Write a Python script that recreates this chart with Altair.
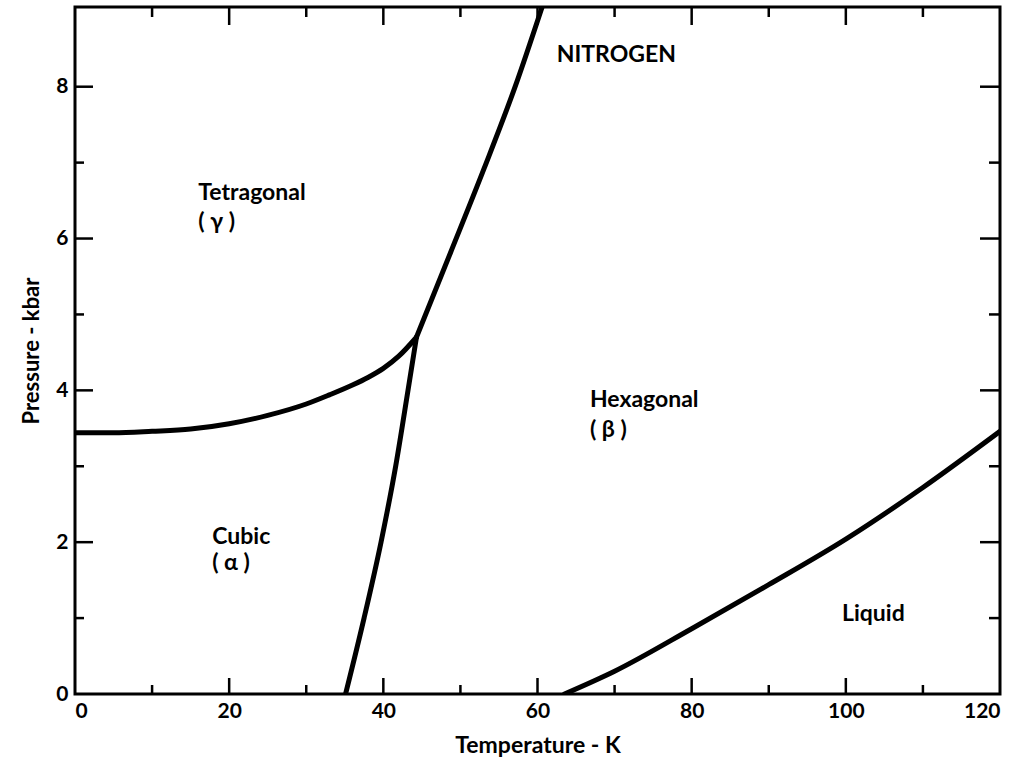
import altair as alt
import pandas as pd

# Phase boundary curves (Temperature K, Pressure kbar)
cubic_tetra_T = [0, 5, 10, 15, 20, 25, 30, 33, 36, 38, 40, 42, 44.3]
cubic_tetra_P = [3.44, 3.44, 3.46, 3.49, 3.56, 3.67, 3.82, 3.94, 4.07, 4.17, 4.29, 4.45, 4.70]

cubic_hex_T = [35.1, 37.5, 39.7, 41.6, 43.2, 44.3]
cubic_hex_P = [0.0, 1.0, 2.0, 3.0, 4.0, 4.70]

tetra_hex_T = [44.3, 48.7, 53.1, 57.1, 60.6]
tetra_hex_P = [4.70, 5.81, 6.93, 8.0, 9.05]

melt_T = [63.5, 70, 80, 90, 100, 110, 120]
melt_P = [0.0, 0.30, 0.86, 1.44, 2.04, 2.72, 3.46]

# Region labels
label_text = ["NITROGEN", "Tetragonal", "( γ )", "Hexagonal", "( β )", "Cubic", "( α )", "Liquid"]
label_T = [62.5, 16.0, 16.0, 66.8, 66.8, 17.8, 17.8, 99.5]
label_P = [8.42, 6.6, 6.22, 3.87, 3.48, 2.07, 1.73, 1.05]

x_major = [0, 20, 40, 60, 80, 100, 120]
x_minor = [10, 30, 50, 70, 90, 110]
y_major = [2, 4, 6, 8]
y_minor = [1, 3, 5, 7]

W, H = 925, 687
FONT = "Lato"

rows = []
for name, ts, ps in [("ct", cubic_tetra_T, cubic_tetra_P), ("ch", cubic_hex_T, cubic_hex_P),
                     ("th", tetra_hex_T, tetra_hex_P), ("m", melt_T, melt_P)]:
    for i, (t, p) in enumerate(zip(ts, ps)):
        rows.append({"curve": name, "T": t, "P": p, "i": i})
curves = pd.DataFrame(rows)

xscale = alt.Scale(domain=[0, 120], nice=False, zero=False)
yscale = alt.Scale(domain=[0, 9.05], nice=False, zero=False)

xaxis = alt.Axis(values=x_major, domain=False, ticks=False, grid=False, labelFont=FONT,
                 labelFontWeight="bold", labelFontSize=21, labelColor="black", labelPadding=6,
                 title="Temperature - K", titleFont=FONT, titleFontSize=23, titleFontWeight="bold",
                 titleColor="black", titlePadding=13, format="d")
yaxis = alt.Axis(values=[0] + y_major, domain=False, ticks=False, grid=False, labelFont=FONT,
                 labelFontWeight="bold", labelFontSize=21, labelColor="black", labelPadding=7,
                 title="Pressure - kbar", titleFont=FONT, titleFontSize=22, titleFontWeight="bold",
                 titleColor="black", titlePadding=12, format="d")

lines = alt.Chart(curves).mark_line(color="black", strokeWidth=5, interpolate="monotone",
                                    strokeCap="round", clip=True).encode(
    x=alt.X("T:Q", scale=xscale, axis=xaxis),
    y=alt.Y("P:Q", scale=yscale, axis=yaxis),
    detail="curve:N",
    order="i:Q",
)

labels = alt.Chart(pd.DataFrame({"text": label_text, "T": label_T, "P": label_P})).mark_text(
    align="left", baseline="middle", font=FONT, fontWeight="bold", fontSize=23, color="black"
).encode(x=alt.X("T:Q", scale=xscale), y=alt.Y("P:Q", scale=yscale), text="text:N")

xmaj = pd.DataFrame({"T": x_major[1:-1]})
xmin = pd.DataFrame({"T": x_minor})
ymaj = pd.DataFrame({"P": y_major})
ymin = pd.DataFrame({"P": y_minor})

def xticks(df, y0, y1):
    return alt.Chart(df).mark_rule(color="black", strokeWidth=2.5).encode(
        x=alt.X("T:Q", scale=xscale), y=alt.value(y0), y2=alt.value(y1))

def yticks(df, x0, x1):
    return alt.Chart(df).mark_rule(color="black", strokeWidth=2.5).encode(
        y=alt.Y("P:Q", scale=yscale), x=alt.value(x0), x2=alt.value(x1))

ticks = [
    xticks(xmaj, H, H - 16), xticks(xmin, H, H - 9),
    xticks(xmaj, 0, 18), xticks(xmin, 0, 10),
    yticks(ymaj, 0, 18), yticks(ymin, 0, 9),
    yticks(ymaj, W, W - 20), yticks(ymin, W, W - 11),
]

chart = alt.layer(lines, labels, *ticks).properties(
    width=W, height=H,
    autosize=alt.AutoSizeParams(type="none"),
    padding={"left": 75, "top": 7, "right": 17, "bottom": 73},
    background="white",
).configure_view(stroke="black", strokeWidth=3)

chart.save("out.html", embed_options={"renderer": "svg", "actions": False})
